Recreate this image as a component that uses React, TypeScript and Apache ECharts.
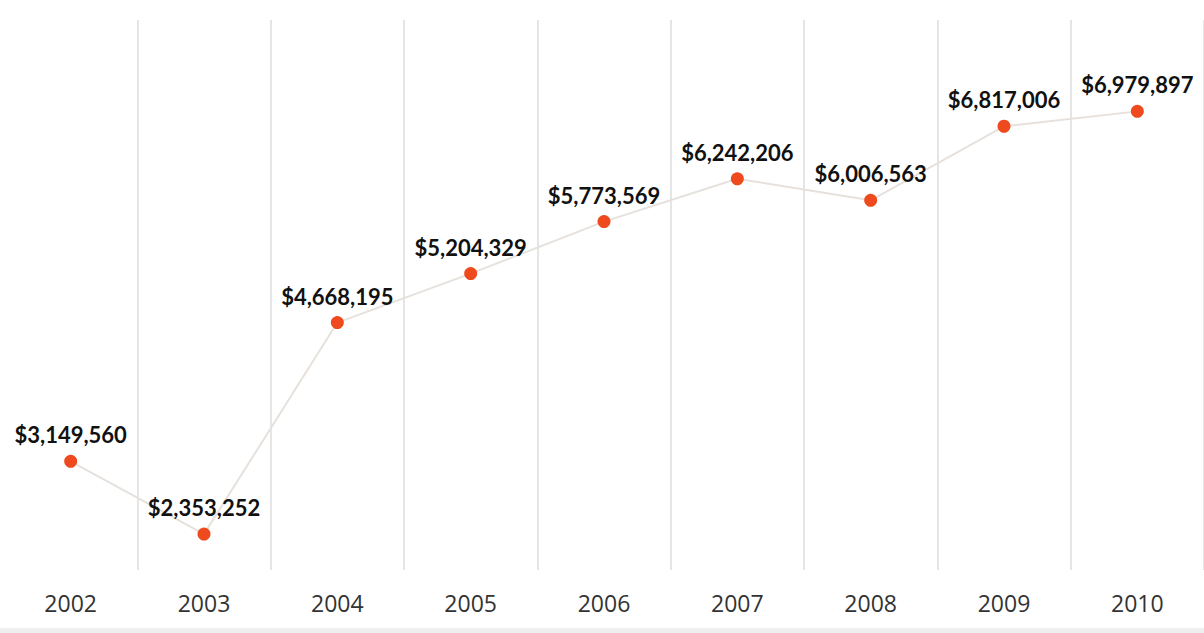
import React, { useEffect, useRef } from "react";
import * as echarts from "echarts";

const years = ["2002", "2003", "2004", "2005", "2006", "2007", "2008", "2009", "2010"];
const revenue = [3149560, 2353252, 4668195, 5204329, 5773569, 6242206, 6006563, 6817006, 6979897];

const fmt = (v: number) => "$" + v.toLocaleString("en-US");

export default function App() {
  const ref = useRef<HTMLDivElement>(null);
  useEffect(() => {
    if (!ref.current) return;
    const chart = echarts.init(ref.current, null, { renderer: "svg" });
    chart.setOption({
      animation: false,
      backgroundColor: "#ffffff",
      grid: { left: 4, top: 20, width: 1210, bottom: 63, containLabel: false },
      xAxis: {
        type: "category",
        data: years,
        boundaryGap: true,
        axisLine: { show: false },
        axisTick: { show: false },
        axisLabel: {
          color: "#333333",
          fontSize: 23,
          fontFamily: "'Open Sans', Lato, sans-serif",
          margin: 21,
        },
        splitLine: {
          show: true,
          interval: (i: number) => i > 0,
          lineStyle: { color: "#dcdcdc", width: 1.5 },
        },
      },
      yAxis: {
        type: "value",
        show: false,
        min: 1960000,
        max: 7980000,
        splitLine: { show: false },
      },
      graphic: [
        {
          type: "rect",
          left: 0,
          bottom: 0,
          shape: { width: 1204, height: 5 },
          style: { fill: "#efefef" },
          silent: true,
        },
      ],
      series: [
        {
          type: "line",
          data: revenue,
          symbol: "circle",
          symbolSize: 13,
          itemStyle: { color: "#ee4a1e" },
          lineStyle: { color: "#e6e1dc", width: 2 },
          label: {
            show: true,
            position: "top",
            distance: 9,
            formatter: (p: any) => fmt(p.value),
            color: "#111111",
            fontSize: 22,
            fontWeight: "bold",
            fontFamily: "Lato, 'Open Sans', sans-serif",
          },
          z: 3,
        },
      ],
    });
    return () => chart.dispose();
  }, []);
  return (
    <div
      ref={ref}
      style={{ position: "fixed", left: 0, top: 0, width: 1204, height: 633 }}
    />
  );
}
